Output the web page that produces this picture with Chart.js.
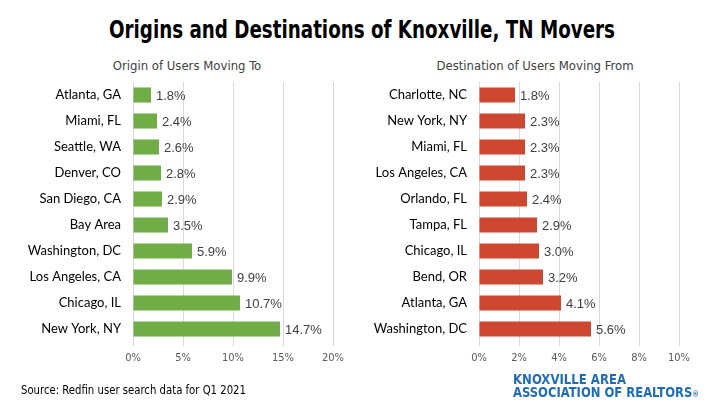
<!DOCTYPE html>
<html>
<head>
<meta charset="utf-8">
<script src="https://cdn.jsdelivr.net/npm/chart.js@4.4.0/dist/chart.umd.min.js"></script>
<style>
  html, body { margin:0; padding:0; background:#fff; }
  #wrap { position:relative; width:720px; height:405px; overflow:hidden; background:#fff; }
  .txt { position:absolute; white-space:nowrap; transform-origin:0 0; }
  #title { left:109px; top:15px; font-family:"DejaVu Sans Condensed","DejaVu Sans",sans-serif; font-weight:bold; font-size:25px; color:#000; }
  .sub { top:58px; font-family:"DejaVu Sans Condensed","DejaVu Sans",sans-serif; font-size:13px; color:#404040; text-align:center; width:300px; }
  #source { left:21px; top:382px; font-family:"DejaVu Sans Condensed","DejaVu Sans",sans-serif; font-size:13px; color:#000; }
  .logo { left:513px; font-family:"DejaVu Sans Condensed","DejaVu Sans",sans-serif; font-weight:bold; font-size:14px; line-height:16px; color:#1f6db5; }
  canvas { position:absolute; top:0; }
</style>
</head>
<body>
<div id="wrap">
  <div id="title" class="txt" data-w="506">Origins and Destinations of Knoxville, TN Movers</div>
  <div class="txt sub" style="left:37px;">Origin of Users Moving To</div>
  <div class="txt sub" style="left:385px;">Destination of Users Moving From</div>
  <canvas id="c1" width="360" height="405" style="left:0;width:360px;height:405px;"></canvas>
  <canvas id="c2" width="360" height="405" style="left:360px;width:360px;height:405px;"></canvas>
  <div id="source" class="txt" data-w="225">Source: Redfin user search data for Q1 2021</div>
  <div class="txt logo" style="top:371px;" data-w="113">KNOXVILLE AREA</div>
  <div class="txt logo" style="top:384px;" data-w="186">ASSOCIATION OF REALTORS<span style="font-size:8px;">®</span></div>
</div>
<script>
// ---- Data ----
const originCities = ["Atlanta, GA","Miami, FL","Seattle, WA","Denver, CO","San Diego, CA","Bay Area","Washington, DC","Los Angeles, CA","Chicago, IL","New York, NY"];
const originValues = [1.8, 2.4, 2.6, 2.8, 2.9, 3.5, 5.9, 9.9, 10.7, 14.7];
const originTicks = [0, 5, 10, 15, 20];

const destCities = ["Charlotte, NC","New York, NY","Miami, FL","Los Angeles, CA","Orlando, FL","Tampa, FL","Chicago, IL","Bend, OR","Atlanta, GA","Washington, DC"];
const destValues = [1.8, 2.3, 2.3, 2.3, 2.4, 2.9, 3.0, 3.2, 4.1, 5.6];
const destTicks = [0, 2, 4, 6, 8, 10];

// fit HTML text to its reference width (horizontal condensing)
document.querySelectorAll('[data-w]').forEach(el => {
  const w = el.getBoundingClientRect().width;
  const target = parseFloat(el.dataset.w);
  el.style.transform = 'scaleX(' + (target / w) + ')';
});

const labelFont = 'Lato, "Liberation Sans", Arial, sans-serif';
const valueFont = '"Liberation Sans", Arial, sans-serif';
const tickFont = '"DejaVu Sans Condensed", sans-serif';

const valueLabels = {
  id: 'valueLabels',
  afterDatasetsDraw(chart) {
    const ctx = chart.ctx;
    ctx.save();
    ctx.font = '13px ' + valueFont;
    ctx.fillStyle = '#404040';
    ctx.textBaseline = 'middle';
    ctx.textAlign = 'left';
    chart.getDatasetMeta(0).data.forEach((bar, i) => {
      const v = chart.data.datasets[0].data[i];
      ctx.fillText(v.toFixed(1) + '%', bar.x + 5, bar.y + 1);
    });
    ctx.restore();
  }
};

function makeChart(id, cities, values, ticks, color, yWidth, padRight) {
  const maxV = ticks[ticks.length - 1];
  const step = ticks[1] - ticks[0];
  return new Chart(document.getElementById(id), {
    type: 'bar',
    data: { labels: cities, datasets: [{ data: values, backgroundColor: color, borderWidth: 0,
      barPercentage: 0.58, categoryPercentage: 1.0 }] },
    options: {
      indexAxis: 'y',
      responsive: false,
      animation: false,
      layout: { padding: { top: 82, right: padRight, bottom: 0, left: 0 } },
      plugins: { legend: { display: false }, tooltip: { enabled: false } },
      scales: {
        x: {
          min: 0, max: maxV,
          afterBuildTicks(scale) { scale.ticks = ticks.map(v => ({ value: v })); },
          afterFit(scale) { scale.height = 63; },
          grid: { color: '#d9d9d9', lineWidth: 1, drawTicks: true, tickLength: 4, tickColor: '#d9d9d9' },
          border: { display: false },
          ticks: { stepSize: step, padding: 6, color: '#595959', font: { family: tickFont, size: 11 },
                   callback: v => v + '%' }
        },
        y: {
          afterFit(scale) { scale.width = yWidth; },
          grid: { display: false, drawTicks: false },
          border: { display: false },
          ticks: { padding: 12, color: '#000', font: { family: labelFont, size: 13 } }
        }
      }
    },
    plugins: [valueLabels]
  });
}

makeChart('c1', originCities, originValues, originTicks, '#70ad47', 133, 27);
makeChart('c2', destCities, destValues, destTicks, '#cd4731', 119, 41);
</script>
</body>
</html>
